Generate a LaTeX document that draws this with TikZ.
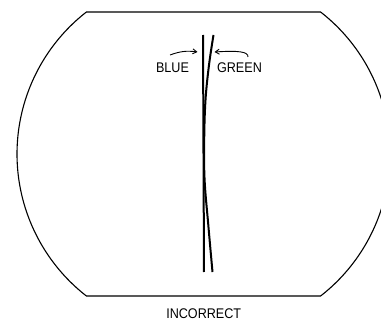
\documentclass[tikz,border=0pt]{standalone}
\usepackage{fontspec}
\newfontfamily\labfont[FakeStretch=0.9]{Liberation Sans}
\usetikzlibrary{arrows.meta}
\begin{document}
\begin{tikzpicture}[x=1pt,y=-1pt,
  outline/.style={line width=1.1pt,line join=miter},
  trace/.style={line width=2pt,line cap=butt},
  pointer/.style={line width=0.9pt,-{Straight Barb[length=4pt,width=5pt]}},
  lab/.style={inner sep=0pt,font=\labfont\fontsize{14}{14}\selectfont}]
\clip (0,0) rectangle (381,321);
\fill[white] (0,0) rectangle (381,321);
% screen outline
\draw[outline] (86.4,12) -- (320.6,12)
  -- plot[domain=-52.08:52.08,samples=60,smooth] ({210+180*cos(\x)},{154+180*sin(\x)})
  -- (86.4,296)
  -- plot[domain=52.08:-52.08,samples=60,smooth] ({197-180*cos(\x)},{154+180*sin(\x)})
  -- cycle;
% traces
\coordinate (btop) at (203,35);
\coordinate (bbot) at (204,272);
\draw[trace] (btop) -- (bbot);
\draw[trace] plot[smooth,tension=0.6] coordinates {(213.5,35) (209,65) (205.5,100) (204.2,140) (204.6,180) (208.3,225) (212.5,272)};
% labels
\node[lab] (blue) at (172.5,68) {BLUE};
\node[lab] (green) at (239.5,68) {GREEN};
\node[lab] (incorrect) at (203.7,313.5) {INCORRECT};
% pointers
\coordinate (bs) at (170,55);
\coordinate (bt) at (197.5,52);
\coordinate (gs) at (248,57);
\coordinate (gt) at (214.5,52);
\draw[pointer] (bs) to[bend left=14] (bt);
\draw[pointer] (gs) .. controls (248.5,51.5) and (238,50.5) .. (gt);
\end{tikzpicture}
\end{document}
